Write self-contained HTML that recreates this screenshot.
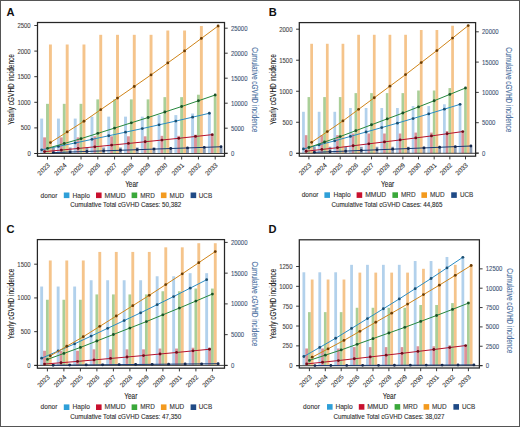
<!DOCTYPE html>
<html><head><meta charset="utf-8"><style>
html,body{margin:0;padding:0;background:#fff;}
body{width:520px;height:427px;overflow:hidden;}
svg{display:block;font-family:"Liberation Sans", sans-serif;}
.t{stroke-width:0.1px;paint-order:stroke;}
</style></head><body>
<svg width="520" height="427" viewBox="0 0 520 427">
<rect x="0" y="0" width="520" height="427" fill="#fff"/>
<g><rect x="40.21" y="118.58" width="2.92" height="34.92" fill="#b2d1ec"/><rect x="56.98" y="118.58" width="2.92" height="34.92" fill="#b2d1ec"/><rect x="73.75" y="118.58" width="2.92" height="34.92" fill="#b2d1ec"/><rect x="90.52" y="116.64" width="2.92" height="36.86" fill="#b2d1ec"/><rect x="107.29" y="116.64" width="2.92" height="36.86" fill="#b2d1ec"/><rect x="124.06" y="116.64" width="2.92" height="36.86" fill="#b2d1ec"/><rect x="140.83" y="116.64" width="2.92" height="36.86" fill="#b2d1ec"/><rect x="157.6" y="115.1" width="2.92" height="38.4" fill="#b2d1ec"/><rect x="174.37" y="115.1" width="2.92" height="38.4" fill="#b2d1ec"/><rect x="191.14" y="113.51" width="2.92" height="39.99" fill="#b2d1ec"/><rect x="207.91" y="113.51" width="2.92" height="39.99" fill="#b2d1ec"/><rect x="43.12" y="137.37" width="2.92" height="16.13" fill="#dc9299"/><rect x="59.89" y="137.37" width="2.92" height="16.13" fill="#dc9299"/><rect x="76.66" y="137.37" width="2.92" height="16.13" fill="#dc9299"/><rect x="93.43" y="136.3" width="2.92" height="17.2" fill="#dc9299"/><rect x="110.2" y="136.3" width="2.92" height="17.2" fill="#dc9299"/><rect x="126.97" y="136.3" width="2.92" height="17.2" fill="#dc9299"/><rect x="143.74" y="136.3" width="2.92" height="17.2" fill="#dc9299"/><rect x="160.51" y="135.84" width="2.92" height="17.66" fill="#dc9299"/><rect x="177.28" y="135.84" width="2.92" height="17.66" fill="#dc9299"/><rect x="194.05" y="134.71" width="2.92" height="18.79" fill="#dc9299"/><rect x="210.82" y="134.71" width="2.92" height="18.79" fill="#dc9299"/><rect x="46.04" y="103.84" width="2.92" height="49.66" fill="#aacf98"/><rect x="62.81" y="103.84" width="2.92" height="49.66" fill="#aacf98"/><rect x="79.58" y="103.84" width="2.92" height="49.66" fill="#aacf98"/><rect x="96.35" y="99.38" width="2.92" height="54.12" fill="#aacf98"/><rect x="113.12" y="99.38" width="2.92" height="54.12" fill="#aacf98"/><rect x="129.89" y="99.38" width="2.92" height="54.12" fill="#aacf98"/><rect x="146.66" y="99.38" width="2.92" height="54.12" fill="#aacf98"/><rect x="163.43" y="97.13" width="2.92" height="56.37" fill="#aacf98"/><rect x="180.2" y="97.13" width="2.92" height="56.37" fill="#aacf98"/><rect x="196.97" y="94.72" width="2.92" height="58.78" fill="#aacf98"/><rect x="213.74" y="94.72" width="2.92" height="58.78" fill="#aacf98"/><rect x="48.96" y="44.5" width="2.92" height="109" fill="#f5c48b"/><rect x="65.73" y="44.5" width="2.92" height="109" fill="#f5c48b"/><rect x="82.5" y="44.5" width="2.92" height="109" fill="#f5c48b"/><rect x="99.27" y="34.82" width="2.92" height="118.68" fill="#f5c48b"/><rect x="116.04" y="34.82" width="2.92" height="118.68" fill="#f5c48b"/><rect x="132.81" y="34.82" width="2.92" height="118.68" fill="#f5c48b"/><rect x="149.58" y="34.82" width="2.92" height="118.68" fill="#f5c48b"/><rect x="166.35" y="30.52" width="2.92" height="122.98" fill="#f5c48b"/><rect x="183.12" y="30.52" width="2.92" height="122.98" fill="#f5c48b"/><rect x="199.89" y="26.01" width="2.92" height="127.49" fill="#f5c48b"/><rect x="216.66" y="26.01" width="2.92" height="127.49" fill="#f5c48b"/><rect x="51.88" y="147.51" width="2.92" height="5.99" fill="#8e9db5"/><rect x="68.65" y="147.51" width="2.92" height="5.99" fill="#8e9db5"/><rect x="85.42" y="147.51" width="2.92" height="5.99" fill="#8e9db5"/><rect x="102.19" y="147.51" width="2.92" height="5.99" fill="#8e9db5"/><rect x="118.96" y="147.51" width="2.92" height="5.99" fill="#8e9db5"/><rect x="135.73" y="147.51" width="2.92" height="5.99" fill="#8e9db5"/><rect x="152.5" y="147.51" width="2.92" height="5.99" fill="#8e9db5"/><rect x="169.27" y="147.51" width="2.92" height="5.99" fill="#8e9db5"/><rect x="186.04" y="147.51" width="2.92" height="5.99" fill="#8e9db5"/><rect x="202.81" y="147.51" width="2.92" height="5.99" fill="#8e9db5"/><rect x="219.58" y="147.51" width="2.92" height="5.99" fill="#8e9db5"/><line x1="34.5" y1="153.5" x2="227.5" y2="153.5" stroke="#2a2a2a" stroke-width="0.9"/><polyline fill="none" stroke="#1a3a72" stroke-width="1.0" points="53.34,152.61 70.11,152.03 86.88,151.44 103.65,150.86 120.42,150.27 137.19,149.69 153.96,149.1 170.73,148.52 187.5,147.94 204.27,147.35 221.04,146.76"/><circle cx="53.34" cy="152.61" r="1.4" fill="#14284d"/><circle cx="70.11" cy="152.03" r="1.4" fill="#14284d"/><circle cx="86.88" cy="151.44" r="1.4" fill="#14284d"/><circle cx="103.65" cy="150.86" r="1.4" fill="#14284d"/><circle cx="120.42" cy="150.27" r="1.4" fill="#14284d"/><circle cx="137.19" cy="149.69" r="1.4" fill="#14284d"/><circle cx="153.96" cy="149.1" r="1.4" fill="#14284d"/><circle cx="170.73" cy="148.52" r="1.4" fill="#14284d"/><circle cx="187.5" cy="147.94" r="1.4" fill="#14284d"/><circle cx="204.27" cy="147.35" r="1.4" fill="#14284d"/><circle cx="221.04" cy="146.76" r="1.4" fill="#14284d"/><polyline fill="none" stroke="#b5122f" stroke-width="1.0" points="44.58,151.62 61.35,150.05 78.12,148.47 94.89,146.79 111.66,145.11 128.43,143.44 145.2,141.75 161.97,140.03 178.74,138.3 195.51,136.47 212.28,134.63"/><circle cx="44.58" cy="151.62" r="1.4" fill="#6b0d1a"/><circle cx="61.35" cy="150.05" r="1.4" fill="#6b0d1a"/><circle cx="78.12" cy="148.47" r="1.4" fill="#6b0d1a"/><circle cx="94.89" cy="146.79" r="1.4" fill="#6b0d1a"/><circle cx="111.66" cy="145.11" r="1.4" fill="#6b0d1a"/><circle cx="128.43" cy="143.44" r="1.4" fill="#6b0d1a"/><circle cx="145.2" cy="141.75" r="1.4" fill="#6b0d1a"/><circle cx="161.97" cy="140.03" r="1.4" fill="#6b0d1a"/><circle cx="178.74" cy="138.3" r="1.4" fill="#6b0d1a"/><circle cx="195.51" cy="136.47" r="1.4" fill="#6b0d1a"/><circle cx="212.28" cy="134.63" r="1.4" fill="#6b0d1a"/><polyline fill="none" stroke="#2b8cc3" stroke-width="1.0" points="41.66,149.79 58.43,146.38 75.2,142.97 91.97,139.37 108.74,135.77 125.51,132.17 142.28,128.57 159.05,124.82 175.82,121.07 192.59,117.16 209.36,113.26"/><circle cx="41.66" cy="149.79" r="1.4" fill="#1b4f72"/><circle cx="58.43" cy="146.38" r="1.4" fill="#1b4f72"/><circle cx="75.2" cy="142.97" r="1.4" fill="#1b4f72"/><circle cx="91.97" cy="139.37" r="1.4" fill="#1b4f72"/><circle cx="108.74" cy="135.77" r="1.4" fill="#1b4f72"/><circle cx="125.51" cy="132.17" r="1.4" fill="#1b4f72"/><circle cx="142.28" cy="128.57" r="1.4" fill="#1b4f72"/><circle cx="159.05" cy="124.82" r="1.4" fill="#1b4f72"/><circle cx="175.82" cy="121.07" r="1.4" fill="#1b4f72"/><circle cx="192.59" cy="117.16" r="1.4" fill="#1b4f72"/><circle cx="209.36" cy="113.26" r="1.4" fill="#1b4f72"/><polyline fill="none" stroke="#25873c" stroke-width="1.0" points="47.5,148.35 64.27,143.5 81.04,138.65 97.81,133.36 114.58,128.08 131.35,122.79 148.12,117.51 164.89,112 181.66,106.5 198.43,100.76 215.2,95.02"/><circle cx="47.5" cy="148.35" r="1.4" fill="#1a5128"/><circle cx="64.27" cy="143.5" r="1.4" fill="#1a5128"/><circle cx="81.04" cy="138.65" r="1.4" fill="#1a5128"/><circle cx="97.81" cy="133.36" r="1.4" fill="#1a5128"/><circle cx="114.58" cy="128.08" r="1.4" fill="#1a5128"/><circle cx="131.35" cy="122.79" r="1.4" fill="#1a5128"/><circle cx="148.12" cy="117.51" r="1.4" fill="#1a5128"/><circle cx="164.89" cy="112" r="1.4" fill="#1a5128"/><circle cx="181.66" cy="106.5" r="1.4" fill="#1a5128"/><circle cx="198.43" cy="100.76" r="1.4" fill="#1a5128"/><circle cx="215.2" cy="95.02" r="1.4" fill="#1a5128"/><polyline fill="none" stroke="#d08418" stroke-width="1.0" points="50.42,142.55 67.19,131.91 83.96,121.26 100.73,109.67 117.5,98.08 134.27,86.49 151.04,74.9 167.81,62.89 184.58,50.88 201.35,38.43 218.12,25.98"/><circle cx="50.42" cy="142.55" r="1.4" fill="#6b3d05"/><circle cx="67.19" cy="131.91" r="1.4" fill="#6b3d05"/><circle cx="83.96" cy="121.26" r="1.4" fill="#6b3d05"/><circle cx="100.73" cy="109.67" r="1.4" fill="#6b3d05"/><circle cx="117.5" cy="98.08" r="1.4" fill="#6b3d05"/><circle cx="134.27" cy="86.49" r="1.4" fill="#6b3d05"/><circle cx="151.04" cy="74.9" r="1.4" fill="#6b3d05"/><circle cx="167.81" cy="62.89" r="1.4" fill="#6b3d05"/><circle cx="184.58" cy="50.88" r="1.4" fill="#6b3d05"/><circle cx="201.35" cy="38.43" r="1.4" fill="#6b3d05"/><circle cx="218.12" cy="25.98" r="1.4" fill="#6b3d05"/><rect x="37.5" y="22.5" width="187" height="133.8" fill="none" stroke="#262626" stroke-width="1.25"/><line x1="34.3" y1="153.5" x2="37.5" y2="153.5" stroke="#222" stroke-width="0.9"/><text x="30.7" y="156" class="t" stroke="#444" text-anchor="end" font-size="6.9" fill="#444" textLength="3.32" lengthAdjust="spacingAndGlyphs">0</text><line x1="34.3" y1="127.9" x2="37.5" y2="127.9" stroke="#222" stroke-width="0.9"/><text x="30.7" y="130.4" class="t" stroke="#444" text-anchor="end" font-size="6.9" fill="#444" textLength="9.96" lengthAdjust="spacingAndGlyphs">500</text><line x1="34.3" y1="102.3" x2="37.5" y2="102.3" stroke="#222" stroke-width="0.9"/><text x="30.7" y="104.8" class="t" stroke="#444" text-anchor="end" font-size="6.9" fill="#444" textLength="13.28" lengthAdjust="spacingAndGlyphs">1000</text><line x1="34.3" y1="76.7" x2="37.5" y2="76.7" stroke="#222" stroke-width="0.9"/><text x="30.7" y="79.2" class="t" stroke="#444" text-anchor="end" font-size="6.9" fill="#444" textLength="13.28" lengthAdjust="spacingAndGlyphs">1500</text><line x1="34.3" y1="51.1" x2="37.5" y2="51.1" stroke="#222" stroke-width="0.9"/><text x="30.7" y="53.6" class="t" stroke="#444" text-anchor="end" font-size="6.9" fill="#444" textLength="13.28" lengthAdjust="spacingAndGlyphs">2000</text><line x1="34.3" y1="25.5" x2="37.5" y2="25.5" stroke="#222" stroke-width="0.9"/><text x="30.7" y="28" class="t" stroke="#444" text-anchor="end" font-size="6.9" fill="#444" textLength="13.28" lengthAdjust="spacingAndGlyphs">2500</text><line x1="224.5" y1="153.2" x2="227.7" y2="153.2" stroke="#222" stroke-width="0.9"/><text x="230.9" y="155.7" class="t" stroke="#3d5273" font-size="6.9" fill="#3d5273" textLength="3.32" lengthAdjust="spacingAndGlyphs">0</text><line x1="224.5" y1="128.2" x2="227.7" y2="128.2" stroke="#222" stroke-width="0.9"/><text x="230.9" y="130.7" class="t" stroke="#3d5273" font-size="6.9" fill="#3d5273" textLength="13.28" lengthAdjust="spacingAndGlyphs">5000</text><line x1="224.5" y1="103.2" x2="227.7" y2="103.2" stroke="#222" stroke-width="0.9"/><text x="230.9" y="105.7" class="t" stroke="#3d5273" font-size="6.9" fill="#3d5273" textLength="16.6" lengthAdjust="spacingAndGlyphs">10000</text><line x1="224.5" y1="78.2" x2="227.7" y2="78.2" stroke="#222" stroke-width="0.9"/><text x="230.9" y="80.7" class="t" stroke="#3d5273" font-size="6.9" fill="#3d5273" textLength="16.6" lengthAdjust="spacingAndGlyphs">15000</text><line x1="224.5" y1="53.2" x2="227.7" y2="53.2" stroke="#222" stroke-width="0.9"/><text x="230.9" y="55.7" class="t" stroke="#3d5273" font-size="6.9" fill="#3d5273" textLength="16.6" lengthAdjust="spacingAndGlyphs">20000</text><line x1="224.5" y1="28.2" x2="227.7" y2="28.2" stroke="#222" stroke-width="0.9"/><text x="230.9" y="30.7" class="t" stroke="#3d5273" font-size="6.9" fill="#3d5273" textLength="16.6" lengthAdjust="spacingAndGlyphs">25000</text><line x1="47.5" y1="156.3" x2="47.5" y2="159.5" stroke="#222" stroke-width="0.9"/><text transform="translate(50.3,165.7) rotate(-45)" class="t" stroke="#333" text-anchor="end" font-size="6.5" fill="#333">2023</text><line x1="64.27" y1="156.3" x2="64.27" y2="159.5" stroke="#222" stroke-width="0.9"/><text transform="translate(67.07,165.7) rotate(-45)" class="t" stroke="#333" text-anchor="end" font-size="6.5" fill="#333">2024</text><line x1="81.04" y1="156.3" x2="81.04" y2="159.5" stroke="#222" stroke-width="0.9"/><text transform="translate(83.84,165.7) rotate(-45)" class="t" stroke="#333" text-anchor="end" font-size="6.5" fill="#333">2025</text><line x1="97.81" y1="156.3" x2="97.81" y2="159.5" stroke="#222" stroke-width="0.9"/><text transform="translate(100.61,165.7) rotate(-45)" class="t" stroke="#333" text-anchor="end" font-size="6.5" fill="#333">2026</text><line x1="114.58" y1="156.3" x2="114.58" y2="159.5" stroke="#222" stroke-width="0.9"/><text transform="translate(117.38,165.7) rotate(-45)" class="t" stroke="#333" text-anchor="end" font-size="6.5" fill="#333">2027</text><line x1="131.35" y1="156.3" x2="131.35" y2="159.5" stroke="#222" stroke-width="0.9"/><text transform="translate(134.15,165.7) rotate(-45)" class="t" stroke="#333" text-anchor="end" font-size="6.5" fill="#333">2028</text><line x1="148.12" y1="156.3" x2="148.12" y2="159.5" stroke="#222" stroke-width="0.9"/><text transform="translate(150.92,165.7) rotate(-45)" class="t" stroke="#333" text-anchor="end" font-size="6.5" fill="#333">2029</text><line x1="164.89" y1="156.3" x2="164.89" y2="159.5" stroke="#222" stroke-width="0.9"/><text transform="translate(167.69,165.7) rotate(-45)" class="t" stroke="#333" text-anchor="end" font-size="6.5" fill="#333">2030</text><line x1="181.66" y1="156.3" x2="181.66" y2="159.5" stroke="#222" stroke-width="0.9"/><text transform="translate(184.46,165.7) rotate(-45)" class="t" stroke="#333" text-anchor="end" font-size="6.5" fill="#333">2031</text><line x1="198.43" y1="156.3" x2="198.43" y2="159.5" stroke="#222" stroke-width="0.9"/><text transform="translate(201.23,165.7) rotate(-45)" class="t" stroke="#333" text-anchor="end" font-size="6.5" fill="#333">2032</text><line x1="215.2" y1="156.3" x2="215.2" y2="159.5" stroke="#222" stroke-width="0.9"/><text transform="translate(218,165.7) rotate(-45)" class="t" stroke="#333" text-anchor="end" font-size="6.5" fill="#333">2033</text><text transform="translate(13.6,89.4) rotate(-90)" text-anchor="middle" class="t" stroke="#222" font-size="8.2" fill="#222" textLength="70.6" lengthAdjust="spacingAndGlyphs">Yearly cGVHD incidence</text><text transform="translate(252.2,89.8) rotate(90)" text-anchor="middle" class="t" stroke="#4a6fa0" font-size="8.2" fill="#4a6fa0" textLength="85" lengthAdjust="spacingAndGlyphs">Cumulative cGVHD incidence</text><text x="131.7" y="187" text-anchor="middle" class="t" stroke="#222" font-size="8.4" fill="#222" textLength="13.1" lengthAdjust="spacingAndGlyphs">Year</text><text x="40.6" y="197.5" class="t" stroke="#333" font-size="6.4" fill="#333" textLength="16.8" lengthAdjust="spacingAndGlyphs">donor</text><rect x="63.8" y="192.5" width="5.6" height="5.6" fill="#2e9fd8"/><text x="72.6" y="197.5" class="t" stroke="#333" font-size="6.4" fill="#333" textLength="17.3" lengthAdjust="spacingAndGlyphs">Haplo</text><rect x="96" y="192.5" width="5.6" height="5.6" fill="#c8102e"/><text x="104.6" y="197.5" class="t" stroke="#333" font-size="6.4" fill="#333" textLength="21.0" lengthAdjust="spacingAndGlyphs">MMUD</text><rect x="131.6" y="192.5" width="5.6" height="5.6" fill="#3aa83a"/><text x="140.2" y="197.5" class="t" stroke="#333" font-size="6.4" fill="#333" textLength="14.6" lengthAdjust="spacingAndGlyphs">MRD</text><rect x="160.9" y="192.5" width="5.6" height="5.6" fill="#f39a1e"/><text x="169.6" y="197.5" class="t" stroke="#333" font-size="6.4" fill="#333" textLength="14.6" lengthAdjust="spacingAndGlyphs">MUD</text><rect x="190.6" y="192.5" width="5.6" height="5.6" fill="#1f4a86"/><text x="198.8" y="197.5" class="t" stroke="#333" font-size="6.4" fill="#333" textLength="13.3" lengthAdjust="spacingAndGlyphs">UCB</text><text x="70.2" y="207.2" class="t" stroke="#2a2a2a" font-size="6.5" fill="#2a2a2a" textLength="111" lengthAdjust="spacingAndGlyphs">Cumulative Total cGVHD Cases: 50,382</text><text x="6.6" y="15.8" font-size="11.1" font-weight="bold" fill="#111">A</text></g>
<g><rect x="302.09" y="111.79" width="2.72" height="41.51" fill="#b2d1ec"/><rect x="317.75" y="111.79" width="2.72" height="41.51" fill="#b2d1ec"/><rect x="333.41" y="111.79" width="2.72" height="41.51" fill="#b2d1ec"/><rect x="349.07" y="108" width="2.72" height="45.3" fill="#b2d1ec"/><rect x="364.73" y="108" width="2.72" height="45.3" fill="#b2d1ec"/><rect x="380.39" y="108" width="2.72" height="45.3" fill="#b2d1ec"/><rect x="396.05" y="108" width="2.72" height="45.3" fill="#b2d1ec"/><rect x="411.71" y="106.08" width="2.72" height="47.22" fill="#b2d1ec"/><rect x="427.37" y="106.08" width="2.72" height="47.22" fill="#b2d1ec"/><rect x="443.03" y="104.28" width="2.72" height="49.02" fill="#b2d1ec"/><rect x="458.69" y="104.28" width="2.72" height="49.02" fill="#b2d1ec"/><rect x="304.81" y="135.18" width="2.72" height="18.12" fill="#dc9299"/><rect x="320.47" y="135.18" width="2.72" height="18.12" fill="#dc9299"/><rect x="336.13" y="135.18" width="2.72" height="18.12" fill="#dc9299"/><rect x="351.79" y="133.51" width="2.72" height="19.79" fill="#dc9299"/><rect x="367.45" y="133.51" width="2.72" height="19.79" fill="#dc9299"/><rect x="383.11" y="133.51" width="2.72" height="19.79" fill="#dc9299"/><rect x="398.77" y="133.51" width="2.72" height="19.79" fill="#dc9299"/><rect x="414.43" y="132.58" width="2.72" height="20.72" fill="#dc9299"/><rect x="430.09" y="132.58" width="2.72" height="20.72" fill="#dc9299"/><rect x="445.75" y="131.02" width="2.72" height="22.28" fill="#dc9299"/><rect x="461.41" y="131.02" width="2.72" height="22.28" fill="#dc9299"/><rect x="307.54" y="97.08" width="2.72" height="56.22" fill="#aacf98"/><rect x="323.2" y="97.08" width="2.72" height="56.22" fill="#aacf98"/><rect x="338.86" y="97.08" width="2.72" height="56.22" fill="#aacf98"/><rect x="354.52" y="93.11" width="2.72" height="60.19" fill="#aacf98"/><rect x="370.18" y="93.11" width="2.72" height="60.19" fill="#aacf98"/><rect x="385.84" y="93.11" width="2.72" height="60.19" fill="#aacf98"/><rect x="401.5" y="93.11" width="2.72" height="60.19" fill="#aacf98"/><rect x="417.16" y="90.51" width="2.72" height="62.79" fill="#aacf98"/><rect x="432.82" y="90.51" width="2.72" height="62.79" fill="#aacf98"/><rect x="448.48" y="88.09" width="2.72" height="65.21" fill="#aacf98"/><rect x="464.14" y="88.09" width="2.72" height="65.21" fill="#aacf98"/><rect x="310.26" y="43.78" width="2.72" height="109.52" fill="#f5c48b"/><rect x="325.92" y="43.78" width="2.72" height="109.52" fill="#f5c48b"/><rect x="341.58" y="43.78" width="2.72" height="109.52" fill="#f5c48b"/><rect x="357.24" y="34.78" width="2.72" height="118.52" fill="#f5c48b"/><rect x="372.9" y="34.78" width="2.72" height="118.52" fill="#f5c48b"/><rect x="388.56" y="34.78" width="2.72" height="118.52" fill="#f5c48b"/><rect x="404.22" y="34.78" width="2.72" height="118.52" fill="#f5c48b"/><rect x="419.88" y="30.01" width="2.72" height="123.29" fill="#f5c48b"/><rect x="435.54" y="30.01" width="2.72" height="123.29" fill="#f5c48b"/><rect x="451.2" y="25.73" width="2.72" height="127.57" fill="#f5c48b"/><rect x="466.86" y="25.73" width="2.72" height="127.57" fill="#f5c48b"/><rect x="312.99" y="146.78" width="2.72" height="6.52" fill="#8e9db5"/><rect x="328.65" y="146.78" width="2.72" height="6.52" fill="#8e9db5"/><rect x="344.31" y="146.78" width="2.72" height="6.52" fill="#8e9db5"/><rect x="359.97" y="146.78" width="2.72" height="6.52" fill="#8e9db5"/><rect x="375.63" y="146.78" width="2.72" height="6.52" fill="#8e9db5"/><rect x="391.29" y="146.78" width="2.72" height="6.52" fill="#8e9db5"/><rect x="406.95" y="146.78" width="2.72" height="6.52" fill="#8e9db5"/><rect x="422.61" y="146.78" width="2.72" height="6.52" fill="#8e9db5"/><rect x="438.27" y="146.78" width="2.72" height="6.52" fill="#8e9db5"/><rect x="453.93" y="146.78" width="2.72" height="6.52" fill="#8e9db5"/><rect x="469.59" y="146.78" width="2.72" height="6.52" fill="#8e9db5"/><line x1="296.3" y1="153.3" x2="478.6" y2="153.3" stroke="#2a2a2a" stroke-width="0.9"/><polyline fill="none" stroke="#1a3a72" stroke-width="1.0" points="314.35,152.36 330.01,151.73 345.67,151.09 361.33,150.45 376.99,149.82 392.65,149.18 408.31,148.55 423.97,147.91 439.63,147.27 455.29,146.64 470.95,146"/><circle cx="314.35" cy="152.36" r="1.4" fill="#14284d"/><circle cx="330.01" cy="151.73" r="1.4" fill="#14284d"/><circle cx="345.67" cy="151.09" r="1.4" fill="#14284d"/><circle cx="361.33" cy="150.45" r="1.4" fill="#14284d"/><circle cx="376.99" cy="149.82" r="1.4" fill="#14284d"/><circle cx="392.65" cy="149.18" r="1.4" fill="#14284d"/><circle cx="408.31" cy="148.55" r="1.4" fill="#14284d"/><circle cx="423.97" cy="147.91" r="1.4" fill="#14284d"/><circle cx="439.63" cy="147.27" r="1.4" fill="#14284d"/><circle cx="455.29" cy="146.64" r="1.4" fill="#14284d"/><circle cx="470.95" cy="146" r="1.4" fill="#14284d"/><polyline fill="none" stroke="#b5122f" stroke-width="1.0" points="306.18,151.23 321.84,149.46 337.5,147.69 353.16,145.76 368.82,143.83 384.48,141.89 400.14,139.96 415.8,137.93 431.46,135.91 447.12,133.74 462.78,131.56"/><circle cx="306.18" cy="151.23" r="1.4" fill="#6b0d1a"/><circle cx="321.84" cy="149.46" r="1.4" fill="#6b0d1a"/><circle cx="337.5" cy="147.69" r="1.4" fill="#6b0d1a"/><circle cx="353.16" cy="145.76" r="1.4" fill="#6b0d1a"/><circle cx="368.82" cy="143.83" r="1.4" fill="#6b0d1a"/><circle cx="384.48" cy="141.89" r="1.4" fill="#6b0d1a"/><circle cx="400.14" cy="139.96" r="1.4" fill="#6b0d1a"/><circle cx="415.8" cy="137.93" r="1.4" fill="#6b0d1a"/><circle cx="431.46" cy="135.91" r="1.4" fill="#6b0d1a"/><circle cx="447.12" cy="133.74" r="1.4" fill="#6b0d1a"/><circle cx="462.78" cy="131.56" r="1.4" fill="#6b0d1a"/><polyline fill="none" stroke="#2b8cc3" stroke-width="1.0" points="303.45,148.95 319.11,144.89 334.77,140.84 350.43,136.41 366.09,131.99 381.75,127.57 397.41,123.14 413.07,118.53 428.73,113.92 444.39,109.13 460.05,104.34"/><circle cx="303.45" cy="148.95" r="1.4" fill="#1b4f72"/><circle cx="319.11" cy="144.89" r="1.4" fill="#1b4f72"/><circle cx="334.77" cy="140.84" r="1.4" fill="#1b4f72"/><circle cx="350.43" cy="136.41" r="1.4" fill="#1b4f72"/><circle cx="366.09" cy="131.99" r="1.4" fill="#1b4f72"/><circle cx="381.75" cy="127.57" r="1.4" fill="#1b4f72"/><circle cx="397.41" cy="123.14" r="1.4" fill="#1b4f72"/><circle cx="413.07" cy="118.53" r="1.4" fill="#1b4f72"/><circle cx="428.73" cy="113.92" r="1.4" fill="#1b4f72"/><circle cx="444.39" cy="109.13" r="1.4" fill="#1b4f72"/><circle cx="460.05" cy="104.34" r="1.4" fill="#1b4f72"/><polyline fill="none" stroke="#25873c" stroke-width="1.0" points="308.9,147.51 324.56,142.02 340.22,136.53 355.88,130.65 371.54,124.77 387.2,118.89 402.86,113.02 418.52,106.88 434.18,100.75 449.84,94.38 465.5,88.01"/><circle cx="308.9" cy="147.51" r="1.4" fill="#1a5128"/><circle cx="324.56" cy="142.02" r="1.4" fill="#1a5128"/><circle cx="340.22" cy="136.53" r="1.4" fill="#1a5128"/><circle cx="355.88" cy="130.65" r="1.4" fill="#1a5128"/><circle cx="371.54" cy="124.77" r="1.4" fill="#1a5128"/><circle cx="387.2" cy="118.89" r="1.4" fill="#1a5128"/><circle cx="402.86" cy="113.02" r="1.4" fill="#1a5128"/><circle cx="418.52" cy="106.88" r="1.4" fill="#1a5128"/><circle cx="434.18" cy="100.75" r="1.4" fill="#1a5128"/><circle cx="449.84" cy="94.38" r="1.4" fill="#1a5128"/><circle cx="465.5" cy="88.01" r="1.4" fill="#1a5128"/><polyline fill="none" stroke="#d08418" stroke-width="1.0" points="311.62,142.3 327.28,131.61 342.94,120.91 358.6,109.34 374.26,97.76 389.92,86.19 405.58,74.61 421.24,62.57 436.9,50.53 452.56,38.07 468.22,25.61"/><circle cx="311.62" cy="142.3" r="1.4" fill="#6b3d05"/><circle cx="327.28" cy="131.61" r="1.4" fill="#6b3d05"/><circle cx="342.94" cy="120.91" r="1.4" fill="#6b3d05"/><circle cx="358.6" cy="109.34" r="1.4" fill="#6b3d05"/><circle cx="374.26" cy="97.76" r="1.4" fill="#6b3d05"/><circle cx="389.92" cy="86.19" r="1.4" fill="#6b3d05"/><circle cx="405.58" cy="74.61" r="1.4" fill="#6b3d05"/><circle cx="421.24" cy="62.57" r="1.4" fill="#6b3d05"/><circle cx="436.9" cy="50.53" r="1.4" fill="#6b3d05"/><circle cx="452.56" cy="38.07" r="1.4" fill="#6b3d05"/><circle cx="468.22" cy="25.61" r="1.4" fill="#6b3d05"/><rect x="299.3" y="22.6" width="176.3" height="133.6" fill="none" stroke="#262626" stroke-width="1.25"/><line x1="296.1" y1="153.3" x2="299.3" y2="153.3" stroke="#222" stroke-width="0.9"/><text x="292.5" y="155.8" class="t" stroke="#444" text-anchor="end" font-size="6.9" fill="#444" textLength="3.32" lengthAdjust="spacingAndGlyphs">0</text><line x1="296.1" y1="122.28" x2="299.3" y2="122.28" stroke="#222" stroke-width="0.9"/><text x="292.5" y="124.78" class="t" stroke="#444" text-anchor="end" font-size="6.9" fill="#444" textLength="9.96" lengthAdjust="spacingAndGlyphs">500</text><line x1="296.1" y1="91.25" x2="299.3" y2="91.25" stroke="#222" stroke-width="0.9"/><text x="292.5" y="93.75" class="t" stroke="#444" text-anchor="end" font-size="6.9" fill="#444" textLength="13.28" lengthAdjust="spacingAndGlyphs">1000</text><line x1="296.1" y1="60.23" x2="299.3" y2="60.23" stroke="#222" stroke-width="0.9"/><text x="292.5" y="62.73" class="t" stroke="#444" text-anchor="end" font-size="6.9" fill="#444" textLength="13.28" lengthAdjust="spacingAndGlyphs">1500</text><line x1="296.1" y1="29.2" x2="299.3" y2="29.2" stroke="#222" stroke-width="0.9"/><text x="292.5" y="31.7" class="t" stroke="#444" text-anchor="end" font-size="6.9" fill="#444" textLength="13.28" lengthAdjust="spacingAndGlyphs">2000</text><line x1="475.6" y1="153" x2="478.8" y2="153" stroke="#222" stroke-width="0.9"/><text x="482" y="155.5" class="t" stroke="#3d5273" font-size="6.9" fill="#3d5273" textLength="3.32" lengthAdjust="spacingAndGlyphs">0</text><line x1="475.6" y1="122.7" x2="478.8" y2="122.7" stroke="#222" stroke-width="0.9"/><text x="482" y="125.2" class="t" stroke="#3d5273" font-size="6.9" fill="#3d5273" textLength="13.28" lengthAdjust="spacingAndGlyphs">5000</text><line x1="475.6" y1="92.4" x2="478.8" y2="92.4" stroke="#222" stroke-width="0.9"/><text x="482" y="94.9" class="t" stroke="#3d5273" font-size="6.9" fill="#3d5273" textLength="16.6" lengthAdjust="spacingAndGlyphs">10000</text><line x1="475.6" y1="62.1" x2="478.8" y2="62.1" stroke="#222" stroke-width="0.9"/><text x="482" y="64.6" class="t" stroke="#3d5273" font-size="6.9" fill="#3d5273" textLength="16.6" lengthAdjust="spacingAndGlyphs">15000</text><line x1="475.6" y1="31.8" x2="478.8" y2="31.8" stroke="#222" stroke-width="0.9"/><text x="482" y="34.3" class="t" stroke="#3d5273" font-size="6.9" fill="#3d5273" textLength="16.6" lengthAdjust="spacingAndGlyphs">20000</text><line x1="308.9" y1="156.2" x2="308.9" y2="159.4" stroke="#222" stroke-width="0.9"/><text transform="translate(311.7,165.6) rotate(-45)" class="t" stroke="#333" text-anchor="end" font-size="6.5" fill="#333">2023</text><line x1="324.56" y1="156.2" x2="324.56" y2="159.4" stroke="#222" stroke-width="0.9"/><text transform="translate(327.36,165.6) rotate(-45)" class="t" stroke="#333" text-anchor="end" font-size="6.5" fill="#333">2024</text><line x1="340.22" y1="156.2" x2="340.22" y2="159.4" stroke="#222" stroke-width="0.9"/><text transform="translate(343.02,165.6) rotate(-45)" class="t" stroke="#333" text-anchor="end" font-size="6.5" fill="#333">2025</text><line x1="355.88" y1="156.2" x2="355.88" y2="159.4" stroke="#222" stroke-width="0.9"/><text transform="translate(358.68,165.6) rotate(-45)" class="t" stroke="#333" text-anchor="end" font-size="6.5" fill="#333">2026</text><line x1="371.54" y1="156.2" x2="371.54" y2="159.4" stroke="#222" stroke-width="0.9"/><text transform="translate(374.34,165.6) rotate(-45)" class="t" stroke="#333" text-anchor="end" font-size="6.5" fill="#333">2027</text><line x1="387.2" y1="156.2" x2="387.2" y2="159.4" stroke="#222" stroke-width="0.9"/><text transform="translate(390,165.6) rotate(-45)" class="t" stroke="#333" text-anchor="end" font-size="6.5" fill="#333">2028</text><line x1="402.86" y1="156.2" x2="402.86" y2="159.4" stroke="#222" stroke-width="0.9"/><text transform="translate(405.66,165.6) rotate(-45)" class="t" stroke="#333" text-anchor="end" font-size="6.5" fill="#333">2029</text><line x1="418.52" y1="156.2" x2="418.52" y2="159.4" stroke="#222" stroke-width="0.9"/><text transform="translate(421.32,165.6) rotate(-45)" class="t" stroke="#333" text-anchor="end" font-size="6.5" fill="#333">2030</text><line x1="434.18" y1="156.2" x2="434.18" y2="159.4" stroke="#222" stroke-width="0.9"/><text transform="translate(436.98,165.6) rotate(-45)" class="t" stroke="#333" text-anchor="end" font-size="6.5" fill="#333">2031</text><line x1="449.84" y1="156.2" x2="449.84" y2="159.4" stroke="#222" stroke-width="0.9"/><text transform="translate(452.64,165.6) rotate(-45)" class="t" stroke="#333" text-anchor="end" font-size="6.5" fill="#333">2032</text><line x1="465.5" y1="156.2" x2="465.5" y2="159.4" stroke="#222" stroke-width="0.9"/><text transform="translate(468.3,165.6) rotate(-45)" class="t" stroke="#333" text-anchor="end" font-size="6.5" fill="#333">2033</text><text transform="translate(275.5,89.4) rotate(-90)" text-anchor="middle" class="t" stroke="#222" font-size="8.2" fill="#222" textLength="70.6" lengthAdjust="spacingAndGlyphs">Yearly cGVHD incidence</text><text transform="translate(506.2,89.8) rotate(90)" text-anchor="middle" class="t" stroke="#4a6fa0" font-size="8.2" fill="#4a6fa0" textLength="85" lengthAdjust="spacingAndGlyphs">Cumulative cGVHD incidence</text><text x="387.6" y="187" text-anchor="middle" class="t" stroke="#222" font-size="8.4" fill="#222" textLength="13.1" lengthAdjust="spacingAndGlyphs">Year</text><text x="301.7" y="197.3" class="t" stroke="#333" font-size="6.4" fill="#333" textLength="16.8" lengthAdjust="spacingAndGlyphs">donor</text><rect x="324.4" y="192.3" width="5.6" height="5.6" fill="#2e9fd8"/><text x="333.4" y="197.3" class="t" stroke="#333" font-size="6.4" fill="#333" textLength="17.3" lengthAdjust="spacingAndGlyphs">Haplo</text><rect x="356.6" y="192.3" width="5.6" height="5.6" fill="#c8102e"/><text x="365.2" y="197.3" class="t" stroke="#333" font-size="6.4" fill="#333" textLength="21.0" lengthAdjust="spacingAndGlyphs">MMUD</text><rect x="392.4" y="192.3" width="5.6" height="5.6" fill="#3aa83a"/><text x="401" y="197.3" class="t" stroke="#333" font-size="6.4" fill="#333" textLength="14.6" lengthAdjust="spacingAndGlyphs">MRD</text><rect x="421.4" y="192.3" width="5.6" height="5.6" fill="#f39a1e"/><text x="430" y="197.3" class="t" stroke="#333" font-size="6.4" fill="#333" textLength="14.6" lengthAdjust="spacingAndGlyphs">MUD</text><rect x="451.2" y="192.3" width="5.6" height="5.6" fill="#1f4a86"/><text x="460" y="197.3" class="t" stroke="#333" font-size="6.4" fill="#333" textLength="13.3" lengthAdjust="spacingAndGlyphs">UCB</text><text x="331.4" y="207.4" class="t" stroke="#2a2a2a" font-size="6.5" fill="#2a2a2a" textLength="111" lengthAdjust="spacingAndGlyphs">Cumulative Total cGVHD Cases: 44,865</text><text x="268.8" y="15.7" font-size="11.1" font-weight="bold" fill="#111">B</text></g>
<g><rect x="40.22" y="286.53" width="2.87" height="78.87" fill="#b2d1ec"/><rect x="56.72" y="286.53" width="2.87" height="78.87" fill="#b2d1ec"/><rect x="73.22" y="286.53" width="2.87" height="78.87" fill="#b2d1ec"/><rect x="89.72" y="280.25" width="2.87" height="85.15" fill="#b2d1ec"/><rect x="106.22" y="280.25" width="2.87" height="85.15" fill="#b2d1ec"/><rect x="122.72" y="280.25" width="2.87" height="85.15" fill="#b2d1ec"/><rect x="139.22" y="280.25" width="2.87" height="85.15" fill="#b2d1ec"/><rect x="155.72" y="276.27" width="2.87" height="89.13" fill="#b2d1ec"/><rect x="172.22" y="276.27" width="2.87" height="89.13" fill="#b2d1ec"/><rect x="188.72" y="273.17" width="2.87" height="92.23" fill="#b2d1ec"/><rect x="205.22" y="273.17" width="2.87" height="92.23" fill="#b2d1ec"/><rect x="43.09" y="350.76" width="2.87" height="14.64" fill="#dc9299"/><rect x="59.59" y="350.76" width="2.87" height="14.64" fill="#dc9299"/><rect x="76.09" y="350.76" width="2.87" height="14.64" fill="#dc9299"/><rect x="92.59" y="349.34" width="2.87" height="16.06" fill="#dc9299"/><rect x="109.09" y="349.34" width="2.87" height="16.06" fill="#dc9299"/><rect x="125.59" y="349.34" width="2.87" height="16.06" fill="#dc9299"/><rect x="142.09" y="349.34" width="2.87" height="16.06" fill="#dc9299"/><rect x="158.59" y="348.53" width="2.87" height="16.87" fill="#dc9299"/><rect x="175.09" y="348.53" width="2.87" height="16.87" fill="#dc9299"/><rect x="191.59" y="347.72" width="2.87" height="17.68" fill="#dc9299"/><rect x="208.09" y="347.72" width="2.87" height="17.68" fill="#dc9299"/><rect x="45.96" y="299.75" width="2.87" height="65.65" fill="#aacf98"/><rect x="62.46" y="299.75" width="2.87" height="65.65" fill="#aacf98"/><rect x="78.96" y="299.75" width="2.87" height="65.65" fill="#aacf98"/><rect x="95.46" y="294.42" width="2.87" height="70.98" fill="#aacf98"/><rect x="111.96" y="294.42" width="2.87" height="70.98" fill="#aacf98"/><rect x="128.46" y="294.42" width="2.87" height="70.98" fill="#aacf98"/><rect x="144.96" y="294.42" width="2.87" height="70.98" fill="#aacf98"/><rect x="161.46" y="291.25" width="2.87" height="74.15" fill="#aacf98"/><rect x="177.96" y="291.25" width="2.87" height="74.15" fill="#aacf98"/><rect x="194.46" y="288.55" width="2.87" height="76.85" fill="#aacf98"/><rect x="210.96" y="288.55" width="2.87" height="76.85" fill="#aacf98"/><rect x="48.84" y="260.48" width="2.87" height="104.92" fill="#f5c48b"/><rect x="65.34" y="260.48" width="2.87" height="104.92" fill="#f5c48b"/><rect x="81.84" y="260.48" width="2.87" height="104.92" fill="#f5c48b"/><rect x="98.34" y="251.92" width="2.87" height="113.48" fill="#f5c48b"/><rect x="114.84" y="251.92" width="2.87" height="113.48" fill="#f5c48b"/><rect x="131.34" y="251.92" width="2.87" height="113.48" fill="#f5c48b"/><rect x="147.84" y="251.92" width="2.87" height="113.48" fill="#f5c48b"/><rect x="164.34" y="247.33" width="2.87" height="118.07" fill="#f5c48b"/><rect x="180.84" y="247.33" width="2.87" height="118.07" fill="#f5c48b"/><rect x="197.34" y="243.21" width="2.87" height="122.19" fill="#f5c48b"/><rect x="213.84" y="243.21" width="2.87" height="122.19" fill="#f5c48b"/><rect x="51.71" y="363.71" width="2.87" height="1.69" fill="#8e9db5"/><rect x="68.21" y="363.71" width="2.87" height="1.69" fill="#8e9db5"/><rect x="84.71" y="363.71" width="2.87" height="1.69" fill="#8e9db5"/><rect x="101.21" y="363.71" width="2.87" height="1.69" fill="#8e9db5"/><rect x="117.71" y="363.71" width="2.87" height="1.69" fill="#8e9db5"/><rect x="134.21" y="363.71" width="2.87" height="1.69" fill="#8e9db5"/><rect x="150.71" y="363.71" width="2.87" height="1.69" fill="#8e9db5"/><rect x="167.21" y="363.71" width="2.87" height="1.69" fill="#8e9db5"/><rect x="183.71" y="363.71" width="2.87" height="1.69" fill="#8e9db5"/><rect x="200.21" y="363.71" width="2.87" height="1.69" fill="#8e9db5"/><rect x="216.71" y="363.71" width="2.87" height="1.69" fill="#8e9db5"/><line x1="34.4" y1="365.4" x2="227.5" y2="365.4" stroke="#2a2a2a" stroke-width="0.9"/><polyline fill="none" stroke="#1a3a72" stroke-width="1.0" points="53.14,365.25 69.64,365.09 86.14,364.94 102.64,364.78 119.14,364.63 135.64,364.48 152.14,364.32 168.64,364.17 185.14,364.02 201.64,363.86 218.14,363.71"/><circle cx="53.14" cy="365.25" r="1.4" fill="#14284d"/><circle cx="69.64" cy="365.09" r="1.4" fill="#14284d"/><circle cx="86.14" cy="364.94" r="1.4" fill="#14284d"/><circle cx="102.64" cy="364.78" r="1.4" fill="#14284d"/><circle cx="119.14" cy="364.63" r="1.4" fill="#14284d"/><circle cx="135.64" cy="364.48" r="1.4" fill="#14284d"/><circle cx="152.14" cy="364.32" r="1.4" fill="#14284d"/><circle cx="168.64" cy="364.17" r="1.4" fill="#14284d"/><circle cx="185.14" cy="364.02" r="1.4" fill="#14284d"/><circle cx="201.64" cy="363.86" r="1.4" fill="#14284d"/><circle cx="218.14" cy="363.71" r="1.4" fill="#14284d"/><polyline fill="none" stroke="#b5122f" stroke-width="1.0" points="44.53,364.07 61.03,362.73 77.53,361.4 94.03,359.93 110.53,358.47 127.03,357.01 143.53,355.54 160.03,354 176.53,352.47 193.03,350.86 209.53,349.24"/><circle cx="44.53" cy="364.07" r="1.4" fill="#6b0d1a"/><circle cx="61.03" cy="362.73" r="1.4" fill="#6b0d1a"/><circle cx="77.53" cy="361.4" r="1.4" fill="#6b0d1a"/><circle cx="94.03" cy="359.93" r="1.4" fill="#6b0d1a"/><circle cx="110.53" cy="358.47" r="1.4" fill="#6b0d1a"/><circle cx="127.03" cy="357.01" r="1.4" fill="#6b0d1a"/><circle cx="143.53" cy="355.54" r="1.4" fill="#6b0d1a"/><circle cx="160.03" cy="354" r="1.4" fill="#6b0d1a"/><circle cx="176.53" cy="352.47" r="1.4" fill="#6b0d1a"/><circle cx="193.03" cy="350.86" r="1.4" fill="#6b0d1a"/><circle cx="209.53" cy="349.24" r="1.4" fill="#6b0d1a"/><polyline fill="none" stroke="#2b8cc3" stroke-width="1.0" points="41.66,358.21 58.16,351.02 74.66,343.83 91.16,336.07 107.66,328.31 124.16,320.55 140.66,312.79 157.16,304.66 173.66,296.54 190.16,288.13 206.66,279.72"/><circle cx="41.66" cy="358.21" r="1.4" fill="#1b4f72"/><circle cx="58.16" cy="351.02" r="1.4" fill="#1b4f72"/><circle cx="74.66" cy="343.83" r="1.4" fill="#1b4f72"/><circle cx="91.16" cy="336.07" r="1.4" fill="#1b4f72"/><circle cx="107.66" cy="328.31" r="1.4" fill="#1b4f72"/><circle cx="124.16" cy="320.55" r="1.4" fill="#1b4f72"/><circle cx="140.66" cy="312.79" r="1.4" fill="#1b4f72"/><circle cx="157.16" cy="304.66" r="1.4" fill="#1b4f72"/><circle cx="173.66" cy="296.54" r="1.4" fill="#1b4f72"/><circle cx="190.16" cy="288.13" r="1.4" fill="#1b4f72"/><circle cx="206.66" cy="279.72" r="1.4" fill="#1b4f72"/><polyline fill="none" stroke="#25873c" stroke-width="1.0" points="47.4,359.42 63.9,353.43 80.4,347.45 96.9,340.98 113.4,334.51 129.9,328.04 146.4,321.57 162.9,314.81 179.4,308.05 195.9,301.05 212.4,294.04"/><circle cx="47.4" cy="359.42" r="1.4" fill="#1a5128"/><circle cx="63.9" cy="353.43" r="1.4" fill="#1a5128"/><circle cx="80.4" cy="347.45" r="1.4" fill="#1a5128"/><circle cx="96.9" cy="340.98" r="1.4" fill="#1a5128"/><circle cx="113.4" cy="334.51" r="1.4" fill="#1a5128"/><circle cx="129.9" cy="328.04" r="1.4" fill="#1a5128"/><circle cx="146.4" cy="321.57" r="1.4" fill="#1a5128"/><circle cx="162.9" cy="314.81" r="1.4" fill="#1a5128"/><circle cx="179.4" cy="308.05" r="1.4" fill="#1a5128"/><circle cx="195.9" cy="301.05" r="1.4" fill="#1a5128"/><circle cx="212.4" cy="294.04" r="1.4" fill="#1a5128"/><polyline fill="none" stroke="#d08418" stroke-width="1.0" points="50.27,355.84 66.77,346.27 83.27,336.71 99.77,326.37 116.27,316.02 132.77,305.68 149.27,295.33 165.77,284.57 182.27,273.81 198.77,262.67 215.27,251.53"/><circle cx="50.27" cy="355.84" r="1.4" fill="#6b3d05"/><circle cx="66.77" cy="346.27" r="1.4" fill="#6b3d05"/><circle cx="83.27" cy="336.71" r="1.4" fill="#6b3d05"/><circle cx="99.77" cy="326.37" r="1.4" fill="#6b3d05"/><circle cx="116.27" cy="316.02" r="1.4" fill="#6b3d05"/><circle cx="132.77" cy="305.68" r="1.4" fill="#6b3d05"/><circle cx="149.27" cy="295.33" r="1.4" fill="#6b3d05"/><circle cx="165.77" cy="284.57" r="1.4" fill="#6b3d05"/><circle cx="182.27" cy="273.81" r="1.4" fill="#6b3d05"/><circle cx="198.77" cy="262.67" r="1.4" fill="#6b3d05"/><circle cx="215.27" cy="251.53" r="1.4" fill="#6b3d05"/><rect x="37.4" y="239.6" width="187.1" height="128.6" fill="none" stroke="#262626" stroke-width="1.25"/><line x1="34.2" y1="365.4" x2="37.4" y2="365.4" stroke="#222" stroke-width="0.9"/><text x="30.6" y="367.9" class="t" stroke="#444" text-anchor="end" font-size="6.9" fill="#444" textLength="3.32" lengthAdjust="spacingAndGlyphs">0</text><line x1="34.2" y1="331.66" x2="37.4" y2="331.66" stroke="#222" stroke-width="0.9"/><text x="30.6" y="334.16" class="t" stroke="#444" text-anchor="end" font-size="6.9" fill="#444" textLength="9.96" lengthAdjust="spacingAndGlyphs">500</text><line x1="34.2" y1="297.93" x2="37.4" y2="297.93" stroke="#222" stroke-width="0.9"/><text x="30.6" y="300.43" class="t" stroke="#444" text-anchor="end" font-size="6.9" fill="#444" textLength="13.28" lengthAdjust="spacingAndGlyphs">1000</text><line x1="34.2" y1="264.19" x2="37.4" y2="264.19" stroke="#222" stroke-width="0.9"/><text x="30.6" y="266.69" class="t" stroke="#444" text-anchor="end" font-size="6.9" fill="#444" textLength="13.28" lengthAdjust="spacingAndGlyphs">1500</text><line x1="224.5" y1="365.4" x2="227.7" y2="365.4" stroke="#222" stroke-width="0.9"/><text x="230.9" y="367.9" class="t" stroke="#3d5273" font-size="6.9" fill="#3d5273" textLength="3.32" lengthAdjust="spacingAndGlyphs">0</text><line x1="224.5" y1="334.65" x2="227.7" y2="334.65" stroke="#222" stroke-width="0.9"/><text x="230.9" y="337.15" class="t" stroke="#3d5273" font-size="6.9" fill="#3d5273" textLength="13.28" lengthAdjust="spacingAndGlyphs">5000</text><line x1="224.5" y1="303.9" x2="227.7" y2="303.9" stroke="#222" stroke-width="0.9"/><text x="230.9" y="306.4" class="t" stroke="#3d5273" font-size="6.9" fill="#3d5273" textLength="16.6" lengthAdjust="spacingAndGlyphs">10000</text><line x1="224.5" y1="273.15" x2="227.7" y2="273.15" stroke="#222" stroke-width="0.9"/><text x="230.9" y="275.65" class="t" stroke="#3d5273" font-size="6.9" fill="#3d5273" textLength="16.6" lengthAdjust="spacingAndGlyphs">15000</text><line x1="224.5" y1="242.4" x2="227.7" y2="242.4" stroke="#222" stroke-width="0.9"/><text x="230.9" y="244.9" class="t" stroke="#3d5273" font-size="6.9" fill="#3d5273" textLength="16.6" lengthAdjust="spacingAndGlyphs">20000</text><line x1="47.4" y1="368.2" x2="47.4" y2="371.4" stroke="#222" stroke-width="0.9"/><text transform="translate(50.2,377.6) rotate(-45)" class="t" stroke="#333" text-anchor="end" font-size="6.5" fill="#333">2023</text><line x1="63.9" y1="368.2" x2="63.9" y2="371.4" stroke="#222" stroke-width="0.9"/><text transform="translate(66.7,377.6) rotate(-45)" class="t" stroke="#333" text-anchor="end" font-size="6.5" fill="#333">2024</text><line x1="80.4" y1="368.2" x2="80.4" y2="371.4" stroke="#222" stroke-width="0.9"/><text transform="translate(83.2,377.6) rotate(-45)" class="t" stroke="#333" text-anchor="end" font-size="6.5" fill="#333">2025</text><line x1="96.9" y1="368.2" x2="96.9" y2="371.4" stroke="#222" stroke-width="0.9"/><text transform="translate(99.7,377.6) rotate(-45)" class="t" stroke="#333" text-anchor="end" font-size="6.5" fill="#333">2026</text><line x1="113.4" y1="368.2" x2="113.4" y2="371.4" stroke="#222" stroke-width="0.9"/><text transform="translate(116.2,377.6) rotate(-45)" class="t" stroke="#333" text-anchor="end" font-size="6.5" fill="#333">2027</text><line x1="129.9" y1="368.2" x2="129.9" y2="371.4" stroke="#222" stroke-width="0.9"/><text transform="translate(132.7,377.6) rotate(-45)" class="t" stroke="#333" text-anchor="end" font-size="6.5" fill="#333">2028</text><line x1="146.4" y1="368.2" x2="146.4" y2="371.4" stroke="#222" stroke-width="0.9"/><text transform="translate(149.2,377.6) rotate(-45)" class="t" stroke="#333" text-anchor="end" font-size="6.5" fill="#333">2029</text><line x1="162.9" y1="368.2" x2="162.9" y2="371.4" stroke="#222" stroke-width="0.9"/><text transform="translate(165.7,377.6) rotate(-45)" class="t" stroke="#333" text-anchor="end" font-size="6.5" fill="#333">2030</text><line x1="179.4" y1="368.2" x2="179.4" y2="371.4" stroke="#222" stroke-width="0.9"/><text transform="translate(182.2,377.6) rotate(-45)" class="t" stroke="#333" text-anchor="end" font-size="6.5" fill="#333">2031</text><line x1="195.9" y1="368.2" x2="195.9" y2="371.4" stroke="#222" stroke-width="0.9"/><text transform="translate(198.7,377.6) rotate(-45)" class="t" stroke="#333" text-anchor="end" font-size="6.5" fill="#333">2032</text><line x1="212.4" y1="368.2" x2="212.4" y2="371.4" stroke="#222" stroke-width="0.9"/><text transform="translate(215.2,377.6) rotate(-45)" class="t" stroke="#333" text-anchor="end" font-size="6.5" fill="#333">2033</text><text transform="translate(13.6,303.9) rotate(-90)" text-anchor="middle" class="t" stroke="#222" font-size="8.2" fill="#222" textLength="70.6" lengthAdjust="spacingAndGlyphs">Yearly cGVHD incidence</text><text transform="translate(252.2,303.9) rotate(90)" text-anchor="middle" class="t" stroke="#4a6fa0" font-size="8.2" fill="#4a6fa0" textLength="85" lengthAdjust="spacingAndGlyphs">Cumulative cGVHD incidence</text><text x="130.8" y="398.6" text-anchor="middle" class="t" stroke="#222" font-size="8.4" fill="#222" textLength="13.1" lengthAdjust="spacingAndGlyphs">Year</text><text x="40.6" y="409.4" class="t" stroke="#333" font-size="6.4" fill="#333" textLength="16.8" lengthAdjust="spacingAndGlyphs">donor</text><rect x="63.8" y="404.4" width="5.6" height="5.6" fill="#2e9fd8"/><text x="72.6" y="409.4" class="t" stroke="#333" font-size="6.4" fill="#333" textLength="17.3" lengthAdjust="spacingAndGlyphs">Haplo</text><rect x="96" y="404.4" width="5.6" height="5.6" fill="#c8102e"/><text x="104.6" y="409.4" class="t" stroke="#333" font-size="6.4" fill="#333" textLength="21.0" lengthAdjust="spacingAndGlyphs">MMUD</text><rect x="131.6" y="404.4" width="5.6" height="5.6" fill="#3aa83a"/><text x="140.2" y="409.4" class="t" stroke="#333" font-size="6.4" fill="#333" textLength="14.6" lengthAdjust="spacingAndGlyphs">MRD</text><rect x="160.9" y="404.4" width="5.6" height="5.6" fill="#f39a1e"/><text x="169.6" y="409.4" class="t" stroke="#333" font-size="6.4" fill="#333" textLength="14.6" lengthAdjust="spacingAndGlyphs">MUD</text><rect x="190.6" y="404.4" width="5.6" height="5.6" fill="#1f4a86"/><text x="198.8" y="409.4" class="t" stroke="#333" font-size="6.4" fill="#333" textLength="13.3" lengthAdjust="spacingAndGlyphs">UCB</text><text x="70.2" y="419.3" class="t" stroke="#2a2a2a" font-size="6.5" fill="#2a2a2a" textLength="111" lengthAdjust="spacingAndGlyphs">Cumulative Total cGVHD Cases: 47,350</text><text x="6.6" y="233.4" font-size="11.1" font-weight="bold" fill="#111">C</text></g>
<g><rect x="302.48" y="272.29" width="2.77" height="93.41" fill="#b2d1ec"/><rect x="318.38" y="272.29" width="2.77" height="93.41" fill="#b2d1ec"/><rect x="334.28" y="272.29" width="2.77" height="93.41" fill="#b2d1ec"/><rect x="350.18" y="264.83" width="2.77" height="100.87" fill="#b2d1ec"/><rect x="366.08" y="264.83" width="2.77" height="100.87" fill="#b2d1ec"/><rect x="381.98" y="264.83" width="2.77" height="100.87" fill="#b2d1ec"/><rect x="397.88" y="264.83" width="2.77" height="100.87" fill="#b2d1ec"/><rect x="413.78" y="261.02" width="2.77" height="104.68" fill="#b2d1ec"/><rect x="429.68" y="261.02" width="2.77" height="104.68" fill="#b2d1ec"/><rect x="445.58" y="256.98" width="2.77" height="108.72" fill="#b2d1ec"/><rect x="461.48" y="256.98" width="2.77" height="108.72" fill="#b2d1ec"/><rect x="305.25" y="348.48" width="2.77" height="17.22" fill="#dc9299"/><rect x="321.15" y="348.48" width="2.77" height="17.22" fill="#dc9299"/><rect x="337.05" y="348.48" width="2.77" height="17.22" fill="#dc9299"/><rect x="352.95" y="347.13" width="2.77" height="18.57" fill="#dc9299"/><rect x="368.85" y="347.13" width="2.77" height="18.57" fill="#dc9299"/><rect x="384.75" y="347.13" width="2.77" height="18.57" fill="#dc9299"/><rect x="400.65" y="347.13" width="2.77" height="18.57" fill="#dc9299"/><rect x="416.55" y="346.26" width="2.77" height="19.44" fill="#dc9299"/><rect x="432.45" y="346.26" width="2.77" height="19.44" fill="#dc9299"/><rect x="448.35" y="345.3" width="2.77" height="20.4" fill="#dc9299"/><rect x="464.25" y="345.3" width="2.77" height="20.4" fill="#dc9299"/><rect x="308.02" y="312.13" width="2.77" height="53.57" fill="#aacf98"/><rect x="323.92" y="312.13" width="2.77" height="53.57" fill="#aacf98"/><rect x="339.82" y="312.13" width="2.77" height="53.57" fill="#aacf98"/><rect x="355.72" y="307.77" width="2.77" height="57.93" fill="#aacf98"/><rect x="371.62" y="307.77" width="2.77" height="57.93" fill="#aacf98"/><rect x="387.52" y="307.77" width="2.77" height="57.93" fill="#aacf98"/><rect x="403.42" y="307.77" width="2.77" height="57.93" fill="#aacf98"/><rect x="419.32" y="304.99" width="2.77" height="60.71" fill="#aacf98"/><rect x="435.22" y="304.99" width="2.77" height="60.71" fill="#aacf98"/><rect x="451.12" y="303.08" width="2.77" height="62.62" fill="#aacf98"/><rect x="467.02" y="301.58" width="2.77" height="64.12" fill="#aacf98"/><rect x="310.78" y="279.52" width="2.77" height="86.18" fill="#f5c48b"/><rect x="326.68" y="279.52" width="2.77" height="86.18" fill="#f5c48b"/><rect x="342.58" y="279.52" width="2.77" height="86.18" fill="#f5c48b"/><rect x="358.48" y="272.61" width="2.77" height="93.09" fill="#f5c48b"/><rect x="374.38" y="272.61" width="2.77" height="93.09" fill="#f5c48b"/><rect x="390.28" y="272.61" width="2.77" height="93.09" fill="#f5c48b"/><rect x="406.18" y="272.61" width="2.77" height="93.09" fill="#f5c48b"/><rect x="422.08" y="268.8" width="2.77" height="96.9" fill="#f5c48b"/><rect x="437.98" y="268.8" width="2.77" height="96.9" fill="#f5c48b"/><rect x="453.88" y="264.83" width="2.77" height="100.87" fill="#f5c48b"/><rect x="469.78" y="264.83" width="2.77" height="100.87" fill="#f5c48b"/><rect x="313.55" y="365.07" width="2.77" height="0.63" fill="#8e9db5"/><rect x="329.45" y="365.07" width="2.77" height="0.63" fill="#8e9db5"/><rect x="345.35" y="365.07" width="2.77" height="0.63" fill="#8e9db5"/><rect x="361.25" y="365.07" width="2.77" height="0.63" fill="#8e9db5"/><rect x="377.15" y="365.07" width="2.77" height="0.63" fill="#8e9db5"/><rect x="393.05" y="365.07" width="2.77" height="0.63" fill="#8e9db5"/><rect x="408.95" y="365.07" width="2.77" height="0.63" fill="#8e9db5"/><rect x="424.85" y="365.07" width="2.77" height="0.63" fill="#8e9db5"/><rect x="440.75" y="365.07" width="2.77" height="0.63" fill="#8e9db5"/><rect x="456.65" y="365.07" width="2.77" height="0.63" fill="#8e9db5"/><rect x="472.55" y="365.07" width="2.77" height="0.63" fill="#8e9db5"/><line x1="296.3" y1="365.7" x2="482.4" y2="365.7" stroke="#2a2a2a" stroke-width="0.9"/><polyline fill="none" stroke="#1a3a72" stroke-width="1.0" points="314.93,365.54 330.83,365.48 346.73,365.41 362.63,365.35 378.53,365.29 394.43,365.23 410.33,365.17 426.23,365.1 442.13,365.04 458.03,364.98 473.93,364.92"/><circle cx="314.93" cy="365.54" r="1.4" fill="#14284d"/><circle cx="330.83" cy="365.48" r="1.4" fill="#14284d"/><circle cx="346.73" cy="365.41" r="1.4" fill="#14284d"/><circle cx="362.63" cy="365.35" r="1.4" fill="#14284d"/><circle cx="378.53" cy="365.29" r="1.4" fill="#14284d"/><circle cx="394.43" cy="365.23" r="1.4" fill="#14284d"/><circle cx="410.33" cy="365.17" r="1.4" fill="#14284d"/><circle cx="426.23" cy="365.1" r="1.4" fill="#14284d"/><circle cx="442.13" cy="365.04" r="1.4" fill="#14284d"/><circle cx="458.03" cy="364.98" r="1.4" fill="#14284d"/><circle cx="473.93" cy="364.92" r="1.4" fill="#14284d"/><polyline fill="none" stroke="#b5122f" stroke-width="1.0" points="306.63,363.92 322.53,362.24 338.43,360.56 354.33,358.75 370.23,356.94 386.13,355.13 402.03,353.32 417.93,351.42 433.83,349.52 449.73,347.53 465.63,345.55"/><circle cx="306.63" cy="363.92" r="1.4" fill="#6b0d1a"/><circle cx="322.53" cy="362.24" r="1.4" fill="#6b0d1a"/><circle cx="338.43" cy="360.56" r="1.4" fill="#6b0d1a"/><circle cx="354.33" cy="358.75" r="1.4" fill="#6b0d1a"/><circle cx="370.23" cy="356.94" r="1.4" fill="#6b0d1a"/><circle cx="386.13" cy="355.13" r="1.4" fill="#6b0d1a"/><circle cx="402.03" cy="353.32" r="1.4" fill="#6b0d1a"/><circle cx="417.93" cy="351.42" r="1.4" fill="#6b0d1a"/><circle cx="433.83" cy="349.52" r="1.4" fill="#6b0d1a"/><circle cx="449.73" cy="347.53" r="1.4" fill="#6b0d1a"/><circle cx="465.63" cy="345.55" r="1.4" fill="#6b0d1a"/><polyline fill="none" stroke="#2b8cc3" stroke-width="1.0" points="303.87,356.49 319.77,347.38 335.67,338.27 351.57,328.43 367.47,318.59 383.37,308.76 399.27,298.92 415.17,288.71 431.07,278.5 446.97,267.9 462.87,257.29"/><circle cx="303.87" cy="356.49" r="1.4" fill="#1b4f72"/><circle cx="319.77" cy="347.38" r="1.4" fill="#1b4f72"/><circle cx="335.67" cy="338.27" r="1.4" fill="#1b4f72"/><circle cx="351.57" cy="328.43" r="1.4" fill="#1b4f72"/><circle cx="367.47" cy="318.59" r="1.4" fill="#1b4f72"/><circle cx="383.37" cy="308.76" r="1.4" fill="#1b4f72"/><circle cx="399.27" cy="298.92" r="1.4" fill="#1b4f72"/><circle cx="415.17" cy="288.71" r="1.4" fill="#1b4f72"/><circle cx="431.07" cy="278.5" r="1.4" fill="#1b4f72"/><circle cx="446.97" cy="267.9" r="1.4" fill="#1b4f72"/><circle cx="462.87" cy="257.29" r="1.4" fill="#1b4f72"/><polyline fill="none" stroke="#25873c" stroke-width="1.0" points="309.4,360.38 325.3,355.15 341.2,349.93 357.1,344.28 373,338.63 388.9,332.98 404.8,327.33 420.7,321.4 436.6,315.48 452.5,309.38 468.4,303.12"/><circle cx="309.4" cy="360.38" r="1.4" fill="#1a5128"/><circle cx="325.3" cy="355.15" r="1.4" fill="#1a5128"/><circle cx="341.2" cy="349.93" r="1.4" fill="#1a5128"/><circle cx="357.1" cy="344.28" r="1.4" fill="#1a5128"/><circle cx="373" cy="338.63" r="1.4" fill="#1a5128"/><circle cx="388.9" cy="332.98" r="1.4" fill="#1a5128"/><circle cx="404.8" cy="327.33" r="1.4" fill="#1a5128"/><circle cx="420.7" cy="321.4" r="1.4" fill="#1a5128"/><circle cx="436.6" cy="315.48" r="1.4" fill="#1a5128"/><circle cx="452.5" cy="309.38" r="1.4" fill="#1a5128"/><circle cx="468.4" cy="303.12" r="1.4" fill="#1a5128"/><polyline fill="none" stroke="#d08418" stroke-width="1.0" points="312.17,357.19 328.07,348.79 343.97,340.38 359.87,331.3 375.77,322.23 391.67,313.15 407.57,304.07 423.47,294.62 439.37,285.17 455.27,275.33 471.17,265.49"/><circle cx="312.17" cy="357.19" r="1.4" fill="#6b3d05"/><circle cx="328.07" cy="348.79" r="1.4" fill="#6b3d05"/><circle cx="343.97" cy="340.38" r="1.4" fill="#6b3d05"/><circle cx="359.87" cy="331.3" r="1.4" fill="#6b3d05"/><circle cx="375.77" cy="322.23" r="1.4" fill="#6b3d05"/><circle cx="391.67" cy="313.15" r="1.4" fill="#6b3d05"/><circle cx="407.57" cy="304.07" r="1.4" fill="#6b3d05"/><circle cx="423.47" cy="294.62" r="1.4" fill="#6b3d05"/><circle cx="439.37" cy="285.17" r="1.4" fill="#6b3d05"/><circle cx="455.27" cy="275.33" r="1.4" fill="#6b3d05"/><circle cx="471.17" cy="265.49" r="1.4" fill="#6b3d05"/><rect x="299.3" y="239.8" width="180.1" height="128.2" fill="none" stroke="#262626" stroke-width="1.25"/><line x1="296.1" y1="365.7" x2="299.3" y2="365.7" stroke="#222" stroke-width="0.9"/><text x="292.5" y="368.2" class="t" stroke="#444" text-anchor="end" font-size="6.9" fill="#444" textLength="3.32" lengthAdjust="spacingAndGlyphs">0</text><line x1="296.1" y1="345.86" x2="299.3" y2="345.86" stroke="#222" stroke-width="0.9"/><text x="292.5" y="348.36" class="t" stroke="#444" text-anchor="end" font-size="6.9" fill="#444" textLength="9.96" lengthAdjust="spacingAndGlyphs">250</text><line x1="296.1" y1="326.02" x2="299.3" y2="326.02" stroke="#222" stroke-width="0.9"/><text x="292.5" y="328.52" class="t" stroke="#444" text-anchor="end" font-size="6.9" fill="#444" textLength="9.96" lengthAdjust="spacingAndGlyphs">500</text><line x1="296.1" y1="306.18" x2="299.3" y2="306.18" stroke="#222" stroke-width="0.9"/><text x="292.5" y="308.68" class="t" stroke="#444" text-anchor="end" font-size="6.9" fill="#444" textLength="9.96" lengthAdjust="spacingAndGlyphs">750</text><line x1="296.1" y1="286.34" x2="299.3" y2="286.34" stroke="#222" stroke-width="0.9"/><text x="292.5" y="288.84" class="t" stroke="#444" text-anchor="end" font-size="6.9" fill="#444" textLength="13.28" lengthAdjust="spacingAndGlyphs">1000</text><line x1="296.1" y1="266.5" x2="299.3" y2="266.5" stroke="#222" stroke-width="0.9"/><text x="292.5" y="269" class="t" stroke="#444" text-anchor="end" font-size="6.9" fill="#444" textLength="13.28" lengthAdjust="spacingAndGlyphs">1250</text><line x1="479.4" y1="365.6" x2="482.6" y2="365.6" stroke="#222" stroke-width="0.9"/><text x="485.8" y="368.1" class="t" stroke="#3d5273" font-size="6.9" fill="#3d5273" textLength="3.32" lengthAdjust="spacingAndGlyphs">0</text><line x1="479.4" y1="346.25" x2="482.6" y2="346.25" stroke="#222" stroke-width="0.9"/><text x="485.8" y="348.75" class="t" stroke="#3d5273" font-size="6.9" fill="#3d5273" textLength="13.28" lengthAdjust="spacingAndGlyphs">2500</text><line x1="479.4" y1="326.9" x2="482.6" y2="326.9" stroke="#222" stroke-width="0.9"/><text x="485.8" y="329.4" class="t" stroke="#3d5273" font-size="6.9" fill="#3d5273" textLength="13.28" lengthAdjust="spacingAndGlyphs">5000</text><line x1="479.4" y1="307.55" x2="482.6" y2="307.55" stroke="#222" stroke-width="0.9"/><text x="485.8" y="310.05" class="t" stroke="#3d5273" font-size="6.9" fill="#3d5273" textLength="13.28" lengthAdjust="spacingAndGlyphs">7500</text><line x1="479.4" y1="288.2" x2="482.6" y2="288.2" stroke="#222" stroke-width="0.9"/><text x="485.8" y="290.7" class="t" stroke="#3d5273" font-size="6.9" fill="#3d5273" textLength="16.6" lengthAdjust="spacingAndGlyphs">10000</text><line x1="479.4" y1="268.85" x2="482.6" y2="268.85" stroke="#222" stroke-width="0.9"/><text x="485.8" y="271.35" class="t" stroke="#3d5273" font-size="6.9" fill="#3d5273" textLength="16.6" lengthAdjust="spacingAndGlyphs">12500</text><line x1="309.4" y1="368" x2="309.4" y2="371.2" stroke="#222" stroke-width="0.9"/><text transform="translate(312.2,377.4) rotate(-45)" class="t" stroke="#333" text-anchor="end" font-size="6.5" fill="#333">2023</text><line x1="325.3" y1="368" x2="325.3" y2="371.2" stroke="#222" stroke-width="0.9"/><text transform="translate(328.1,377.4) rotate(-45)" class="t" stroke="#333" text-anchor="end" font-size="6.5" fill="#333">2024</text><line x1="341.2" y1="368" x2="341.2" y2="371.2" stroke="#222" stroke-width="0.9"/><text transform="translate(344,377.4) rotate(-45)" class="t" stroke="#333" text-anchor="end" font-size="6.5" fill="#333">2025</text><line x1="357.1" y1="368" x2="357.1" y2="371.2" stroke="#222" stroke-width="0.9"/><text transform="translate(359.9,377.4) rotate(-45)" class="t" stroke="#333" text-anchor="end" font-size="6.5" fill="#333">2026</text><line x1="373" y1="368" x2="373" y2="371.2" stroke="#222" stroke-width="0.9"/><text transform="translate(375.8,377.4) rotate(-45)" class="t" stroke="#333" text-anchor="end" font-size="6.5" fill="#333">2027</text><line x1="388.9" y1="368" x2="388.9" y2="371.2" stroke="#222" stroke-width="0.9"/><text transform="translate(391.7,377.4) rotate(-45)" class="t" stroke="#333" text-anchor="end" font-size="6.5" fill="#333">2028</text><line x1="404.8" y1="368" x2="404.8" y2="371.2" stroke="#222" stroke-width="0.9"/><text transform="translate(407.6,377.4) rotate(-45)" class="t" stroke="#333" text-anchor="end" font-size="6.5" fill="#333">2029</text><line x1="420.7" y1="368" x2="420.7" y2="371.2" stroke="#222" stroke-width="0.9"/><text transform="translate(423.5,377.4) rotate(-45)" class="t" stroke="#333" text-anchor="end" font-size="6.5" fill="#333">2030</text><line x1="436.6" y1="368" x2="436.6" y2="371.2" stroke="#222" stroke-width="0.9"/><text transform="translate(439.4,377.4) rotate(-45)" class="t" stroke="#333" text-anchor="end" font-size="6.5" fill="#333">2031</text><line x1="452.5" y1="368" x2="452.5" y2="371.2" stroke="#222" stroke-width="0.9"/><text transform="translate(455.3,377.4) rotate(-45)" class="t" stroke="#333" text-anchor="end" font-size="6.5" fill="#333">2032</text><line x1="468.4" y1="368" x2="468.4" y2="371.2" stroke="#222" stroke-width="0.9"/><text transform="translate(471.2,377.4) rotate(-45)" class="t" stroke="#333" text-anchor="end" font-size="6.5" fill="#333">2033</text><text transform="translate(275.5,303.9) rotate(-90)" text-anchor="middle" class="t" stroke="#222" font-size="8.2" fill="#222" textLength="70.6" lengthAdjust="spacingAndGlyphs">Yearly cGVHD incidence</text><text transform="translate(506.6,310.8) rotate(90)" text-anchor="middle" class="t" stroke="#4a6fa0" font-size="8.2" fill="#4a6fa0" textLength="85" lengthAdjust="spacingAndGlyphs">Cumulative cGVHD incidence</text><text x="389.3" y="398.9" text-anchor="middle" class="t" stroke="#222" font-size="8.4" fill="#222" textLength="13.1" lengthAdjust="spacingAndGlyphs">Year</text><text x="303.1" y="409.1" class="t" stroke="#333" font-size="6.4" fill="#333" textLength="16.8" lengthAdjust="spacingAndGlyphs">donor</text><rect x="327" y="404.1" width="5.6" height="5.6" fill="#2e9fd8"/><text x="335.4" y="409.1" class="t" stroke="#333" font-size="6.4" fill="#333" textLength="17.3" lengthAdjust="spacingAndGlyphs">Haplo</text><rect x="358.8" y="404.1" width="5.6" height="5.6" fill="#c8102e"/><text x="367.2" y="409.1" class="t" stroke="#333" font-size="6.4" fill="#333" textLength="21.0" lengthAdjust="spacingAndGlyphs">MMUD</text><rect x="394.6" y="404.1" width="5.6" height="5.6" fill="#3aa83a"/><text x="403" y="409.1" class="t" stroke="#333" font-size="6.4" fill="#333" textLength="14.6" lengthAdjust="spacingAndGlyphs">MRD</text><rect x="423.6" y="404.1" width="5.6" height="5.6" fill="#f39a1e"/><text x="432" y="409.1" class="t" stroke="#333" font-size="6.4" fill="#333" textLength="14.6" lengthAdjust="spacingAndGlyphs">MUD</text><rect x="453.4" y="404.1" width="5.6" height="5.6" fill="#1f4a86"/><text x="462" y="409.1" class="t" stroke="#333" font-size="6.4" fill="#333" textLength="13.3" lengthAdjust="spacingAndGlyphs">UCB</text><text x="333.4" y="419.1" class="t" stroke="#2a2a2a" font-size="6.5" fill="#2a2a2a" textLength="111" lengthAdjust="spacingAndGlyphs">Cumulative Total cGVHD Cases: 38,027</text><text x="268.6" y="233.4" font-size="11.1" font-weight="bold" fill="#111">D</text></g>

<rect x="0.5" y="0.5" width="519" height="426" fill="none" stroke="#555" stroke-width="1"/>
</svg>
</body></html>
